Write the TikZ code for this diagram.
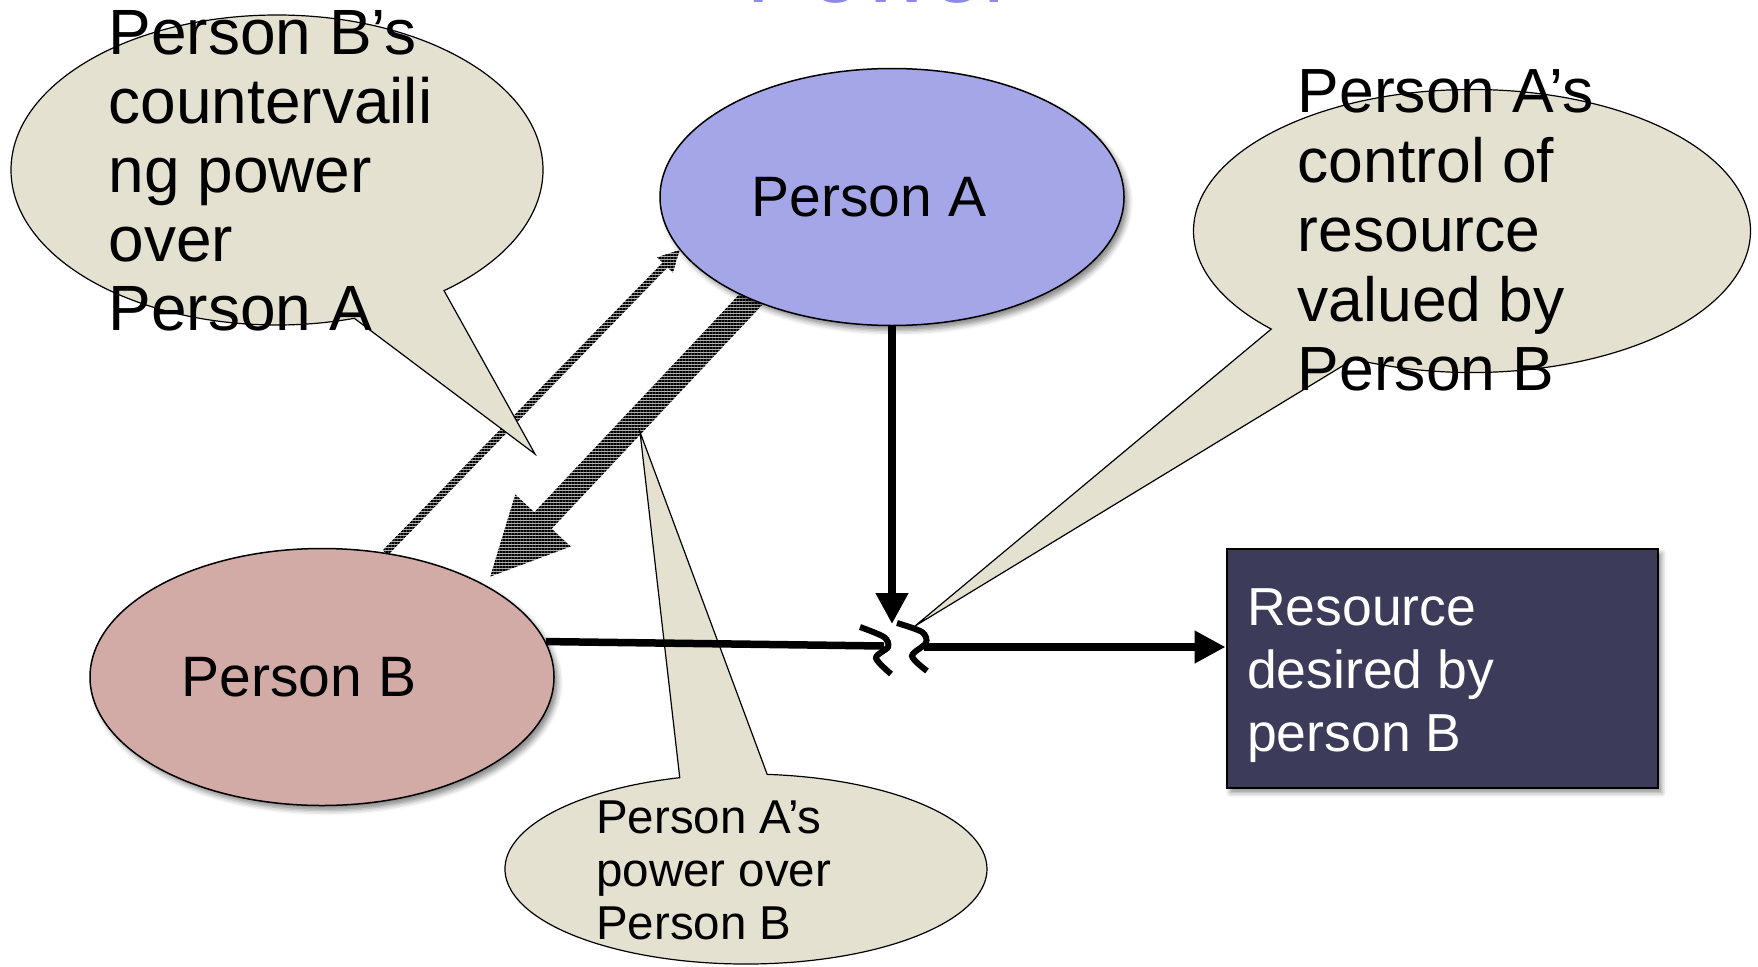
\documentclass[tikz,border=0pt]{standalone}
\usepackage{fontspec}
\setmainfont{Liberation Sans}
\usetikzlibrary{shapes.geometric,shapes.callouts,arrows.meta,calc,patterns.meta,shadows.blur}

\definecolor{bubblefill}{RGB}{228,225,209}
\definecolor{afill}{RGB}{164,166,232}
\definecolor{bfill}{RGB}{210,171,167}
\definecolor{resfill}{RGB}{60,60,90}
\definecolor{titlecol}{RGB}{140,140,232}

\pgfdeclarelayer{arrows}
\pgfsetlayers{arrows,main}

% striped block arrow: start, tip, half shaft, half head, head length
\newcommand\hatcharrow[5]{%
  \coordinate (hb) at ($(#2)!#5!(#1)$);
  \path[hatch] ($(#1)!#3!90:(#2)$) -- ($(hb)!#3!90:(#2)$) -- ($(hb)!#4!90:(#2)$)
    -- (#2) -- ($(hb)!#4!-90:(#2)$) -- ($(hb)!#3!-90:(#2)$) -- ($(#1)!#3!-90:(#2)$) -- cycle;
}

\begin{document}
\begin{tikzpicture}[x=1pt,y=-1pt,
  person/.style={ellipse,draw,line width=1.5pt,minimum width=464pt,minimum height=257pt,inner sep=0pt,
    font=\fontsize{57}{64}\selectfont,
    blur shadow={shadow xshift=4pt,shadow yshift=-5pt,shadow blur radius=5pt,shadow opacity=45}},
  bubble/.style={ellipse callout,draw,line width=1.2pt,fill=bubblefill,inner sep=0pt},
  note/.style={anchor=north west,inner sep=0pt,align=left},
  hatch/.style={preaction={fill=gray!60},pattern={Lines[angle=0,distance=3pt,line width=1.2pt]},pattern color=black},
  link/.style={line width=7.5pt},
  headed/.style={-{Triangle[length=31pt,width=31pt]}}]
	\path[use as bounding box] (0,0) rectangle (1758,966);
	\clip (0,0) rectangle (1758,966);

	% title, cut by the top edge
	\node[anchor=base west,inner sep=0pt,text=titlecol,font=\fontsize{95}{100}\selectfont] (title) at (746,3) {Power};

	% speech bubbles
	\node[bubble,minimum width=532pt,minimum height=310pt,callout absolute pointer={(535,454)},callout pointer arc=22] (bubbleB) at (277,170) {};
	\node[note,font=\fontsize{64}{69}\selectfont] (noteB) at (108.5,10) {Person B’s\\countervaili\\ng power\\over\\Person A};
	\node[bubble,minimum width=557pt,minimum height=283pt,callout absolute pointer={(915,626)},callout pointer arc=21] (bubbleA) at (1472,231) {};
	\node[note,font=\fontsize{62.4}{69.5}\selectfont] (noteA) at (1297.5,69.5) {Person A’s\\control of\\resource\\valued by\\Person B};
	\node[bubble,minimum width=482pt,minimum height=190pt,callout absolute pointer={(640,432)},callout pointer arc=21] (bubblePow) at (746,869) {};
	\node[note,font=\fontsize{47.5}{53}\selectfont] (notePow) at (596,801) {Person A’s\\power over\\Person B};

	\node[person,fill=afill] (personA) at (892,197) {Person A\kern46pt};
	\node[person,fill=bfill] (personB) at (322,677) {Person B\kern46pt};
	\node[draw,line width=2pt,fill=resfill,minimum width=431pt,minimum height=239pt,
		blur shadow={shadow xshift=4pt,shadow yshift=-5pt,shadow blur radius=5pt,shadow opacity=45}]
		(res) at (1442,668) {};
	\node[note,text=white,font=\fontsize{53.5}{63}\selectfont] (resText) at (1247,588) {Resource\\desired by\\person B};

	% power and countervailing power
	\begin{pgfonlayer}{arrows}
	\coordinate (tipB) at ($(personB.30)!10pt!(personA.216)$);
	\coordinate (baseA) at ($(personA.216)!-30pt!(tipB)$);
	\hatcharrow{baseA}{tipB}{12pt}{38pt}{77pt}
	\hatcharrow{personB.63}{personA.194}{3.5pt}{11pt}{21pt}
	\end{pgfonlayer}

	% control of the resource
	\coordinate (vtip) at (892,624);
	\coordinate (gapL) at (884,646);
	\coordinate (gapR) at (924,647);
	\draw[link,headed] (personA.south) -- (vtip);
	\draw[link] (personB.9) -- (gapL);
	\draw[link,headed] (gapR) -- (gapR -| res.west);
	\draw[line width=6pt] plot[smooth] coordinates {(860,627) (884,637) (888,647) (876,658) (891,674)};
	\draw[line width=6pt] plot[smooth] coordinates {(897,623) (922,632) (926,643) (912,656) (927,671)};
\end{tikzpicture}
\end{document}
